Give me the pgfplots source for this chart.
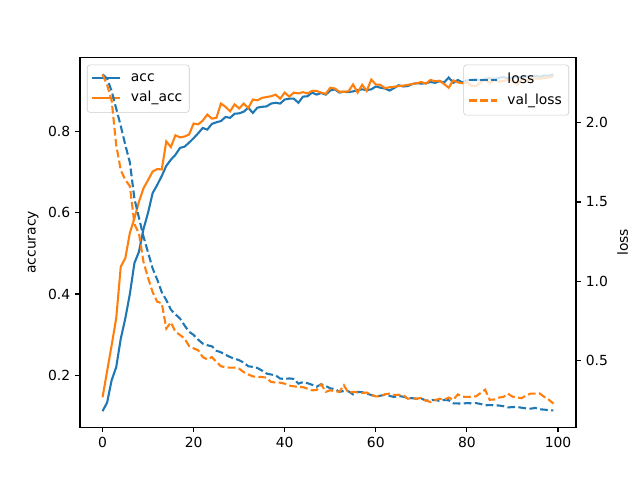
\documentclass[border=0pt]{standalone}
\usepackage{fontspec}
\setmainfont{DejaVu Sans}
\usepackage{pgfplots}
\usepackage{pgfplotstable}
\pgfplotsset{compat=1.18}

\definecolor{C0}{HTML}{1F77B4}
\definecolor{C1}{HTML}{FF7F0E}

% training history: accuracy and loss per epoch
\pgfplotstableread{
epoch acc val_acc loss val_loss
0 0.112 0.146 2.306 2.306
1 0.133 0.210 2.280 2.240
2 0.188 0.274 2.200 2.140
3 0.220 0.340 2.090 1.860
4 0.290 0.467 1.980 1.700
5 0.340 0.488 1.860 1.640
6 0.400 0.550 1.750 1.600
7 0.476 0.586 1.520 1.360
8 0.504 0.627 1.400 1.300
9 0.560 0.660 1.280 1.120
10 0.600 0.680 1.180 1.020
11 0.648 0.701 1.080 0.930
12 0.668 0.707 1.010 0.870
13 0.690 0.706 0.930 0.860
14 0.715 0.775 0.880 0.700
15 0.730 0.761 0.820 0.740
16 0.742 0.790 0.790 0.680
17 0.759 0.785 0.764 0.660
18 0.762 0.787 0.720 0.637
19 0.772 0.792 0.680 0.590
20 0.783 0.819 0.660 0.575
21 0.795 0.817 0.630 0.563
22 0.808 0.826 0.605 0.520
23 0.804 0.841 0.595 0.505
24 0.818 0.831 0.588 0.520
25 0.822 0.833 0.560 0.489
26 0.825 0.868 0.550 0.462
27 0.835 0.860 0.535 0.455
28 0.833 0.849 0.520 0.453
29 0.843 0.866 0.510 0.453
30 0.844 0.856 0.500 0.447
31 0.848 0.868 0.485 0.425
32 0.858 0.857 0.462 0.410
33 0.845 0.878 0.458 0.398
34 0.858 0.876 0.451 0.394
35 0.860 0.882 0.435 0.394
36 0.861 0.884 0.416 0.390
37 0.868 0.886 0.410 0.362
38 0.870 0.890 0.405 0.360
39 0.868 0.880 0.384 0.358
40 0.878 0.895 0.382 0.352
41 0.880 0.885 0.385 0.340
42 0.880 0.895 0.382 0.335
43 0.870 0.893 0.352 0.332
44 0.885 0.896 0.362 0.330
45 0.886 0.893 0.355 0.320
46 0.895 0.899 0.345 0.310
47 0.890 0.899 0.333 0.312
48 0.894 0.895 0.348 0.348
49 0.890 0.892 0.338 0.300
50 0.900 0.907 0.322 0.310
51 0.903 0.905 0.318 0.305
52 0.895 0.897 0.300 0.300
53 0.897 0.897 0.306 0.342
54 0.896 0.898 0.304 0.293
55 0.898 0.915 0.284 0.300
56 0.901 0.895 0.300 0.297
57 0.903 0.914 0.298 0.293
58 0.901 0.899 0.290 0.296
59 0.903 0.927 0.280 0.280
60 0.910 0.915 0.272 0.272
61 0.907 0.914 0.276 0.272
62 0.905 0.906 0.282 0.285
63 0.900 0.908 0.275 0.289
64 0.906 0.909 0.268 0.280
65 0.913 0.911 0.274 0.282
66 0.910 0.912 0.270 0.280
67 0.911 0.914 0.262 0.257
68 0.916 0.916 0.260 0.260
69 0.918 0.918 0.257 0.257
70 0.917 0.921 0.258 0.262
71 0.918 0.917 0.245 0.245
72 0.921 0.926 0.247 0.236
73 0.919 0.923 0.249 0.248
74 0.923 0.924 0.243 0.257
75 0.920 0.916 0.249 0.250
76 0.932 0.907 0.247 0.264
77 0.919 0.925 0.228 0.250
78 0.926 0.920 0.227 0.284
79 0.920 0.918 0.226 0.270
80 0.925 0.920 0.229 0.268
81 0.927 0.912 0.228 0.270
82 0.928 0.911 0.229 0.272
83 0.925 0.920 0.224 0.293
84 0.929 0.927 0.215 0.314
85 0.930 0.918 0.217 0.250
86 0.929 0.925 0.215 0.252
87 0.931 0.922 0.214 0.264
88 0.933 0.924 0.210 0.268
89 0.930 0.926 0.202 0.289
90 0.932 0.925 0.204 0.270
91 0.934 0.915 0.205 0.265
92 0.931 0.928 0.200 0.260
93 0.935 0.925 0.196 0.278
94 0.934 0.927 0.194 0.289
95 0.936 0.930 0.199 0.289
96 0.934 0.929 0.190 0.290
97 0.937 0.931 0.188 0.268
98 0.936 0.932 0.184 0.250
99 0.940 0.935 0.183 0.226
}\history

\pgfplotsset{
  common/.style={
    at={(0,0)}, anchor=south west,
    scale only axis, width=357.12pt, height=266.1pt,
    xmin=-4.95, xmax=103.95,
    axis line style={line width=0.8pt},
    tick style={line width=0.8pt, black},
    major tick length=3.5pt,
    tick align=outside,
    /pgf/number format/assume math mode=true,
    tick label style={font=\fontsize{10}{12}\selectfont},
    label style={font=\fontsize{10}{12}\selectfont},
    legend cell align=left,
    legend image code/.code={\draw[##1] (0pt,0pt) -- (20pt,0pt); \path (25pt,0pt);},
  },
  mplegend/.style={
    draw=black!20, fill=white, fill opacity=0.8, text opacity=1,
    rounded corners=2pt, font=\fontsize{10}{12}\selectfont,
    inner xsep=3pt, inner ysep=4pt, row sep=2pt,
  },
}

\begin{document}
\begin{tikzpicture}
\useasboundingbox (-57.6pt,-38.02pt) rectangle (403.2pt,307.58pt);

\begin{axis}[common,
  ymin=0.0725, ymax=0.981,
  xtick={0,20,...,100}, ytick={0.2,0.4,0.6,0.8},
  xtick pos=bottom, ytick pos=left,
  yticklabel style={/pgf/number format/.cd, fixed, precision=1},
  ylabel={accuracy},
  legend style={mplegend, at={(0.014,0.981)}, anchor=north west},
]
\addplot[C0, line width=1.5pt] table[x=epoch, y=acc] {\history};
\addlegendentry{acc}
\addplot[C1, line width=1.5pt] table[x=epoch, y=val_acc] {\history};
\addlegendentry{val\_acc}
\end{axis}

\begin{axis}[common,
  ymin=0.077, ymax=2.412,
  axis x line=none, axis y line*=right,
  ytick={0.5,1.0,1.5,2.0}, ytick pos=right,
  yticklabel style={/pgf/number format/.cd, fixed, fixed zerofill, precision=1},
  ylabel={loss},
  legend style={mplegend, at={(0.986,0.981)}, anchor=north east},
]
\addplot[C0, line width=1.5pt, dash pattern=on 5.55pt off 2.4pt] table[x=epoch, y=loss] {\history};
\addlegendentry{loss}
\addplot[C1, line width=1.5pt, dash pattern=on 5.55pt off 2.4pt] table[x=epoch, y=val_loss] {\history};
\addlegendentry{val\_loss}
\end{axis}
\end{tikzpicture}
\end{document}
